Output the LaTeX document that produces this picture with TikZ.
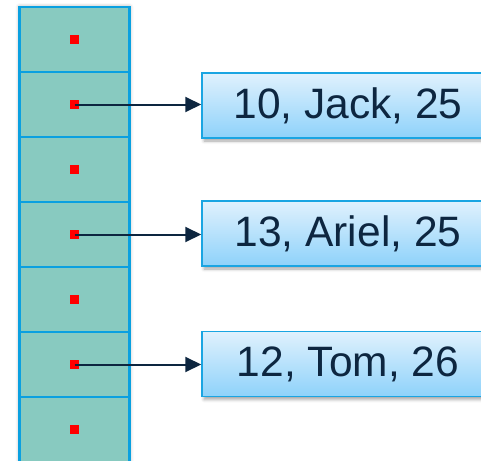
\documentclass[tikz,border=0pt]{standalone}
\usepackage{fontspec}
\setmainfont{Liberation Sans}
\usetikzlibrary{arrows.meta,shadows.blur}
\definecolor{cellfill}{HTML}{88CAC0}
\definecolor{cellline}{HTML}{0AA0E0}
\definecolor{boxtop}{HTML}{E0F1FD}
\definecolor{boxbot}{HTML}{8ED2FA}
\definecolor{boxline}{HTML}{1AA5E2}
\definecolor{ink}{HTML}{0D2640}
\tikzset{
  cell/.style={draw=cellline, line width=2.2pt, fill=cellfill,
    minimum width=110pt, minimum height=65pt, inner sep=0pt, outer sep=0pt},
  ptr/.style={fill=red, minimum size=9pt, inner sep=0pt},
  rec/.style={draw=boxline, line width=1.5pt, top color=boxtop, bottom color=boxbot,
    minimum width=292pt, minimum height=65pt, inner sep=0pt, text=ink,
    font=\fontsize{42.5}{50}\selectfont,
    blur shadow={shadow xshift=2pt, shadow yshift=-3pt, shadow blur radius=3pt, shadow opacity=35}},
  link/.style={draw=ink, line width=2pt, -{Triangle[length=16pt,width=15pt]}}
}
\begin{document}
\begin{tikzpicture}[x=1pt,y=-1pt]
\useasboundingbox (0,0) rectangle (481,460);
\clip (0,0) rectangle (481,460);
% soft shadow behind the bucket column
\path[blur shadow={shadow xshift=0pt, shadow yshift=0pt, shadow blur radius=4pt, shadow opacity=40}]
  (19.5,7) rectangle (129.5,470);
% bucket column
\foreach \i in {1,...,7} {
  \node[cell] (c\i) at (74.5, 39.5+65*\i-65) {};
  \node[ptr] (p\i) at (74.5, 39.5+65*\i-65) {};
}
% records
\node[rec] (r1) at (348,105.5) {10, Jack, 25};
\node[rec] (r2) at (348,233.5) {13, Ariel, 25};
\node[rec] (r3) at (348,364) {12, Tom, 26};
% pointers
\draw[link] (p2.center) -- (r1.west |- p2.center);
\draw[link] (p4.center) -- (r2.west |- p4.center);
\draw[link] (p6.center) -- (r3.west |- p6.center);
\end{tikzpicture}
\end{document}
